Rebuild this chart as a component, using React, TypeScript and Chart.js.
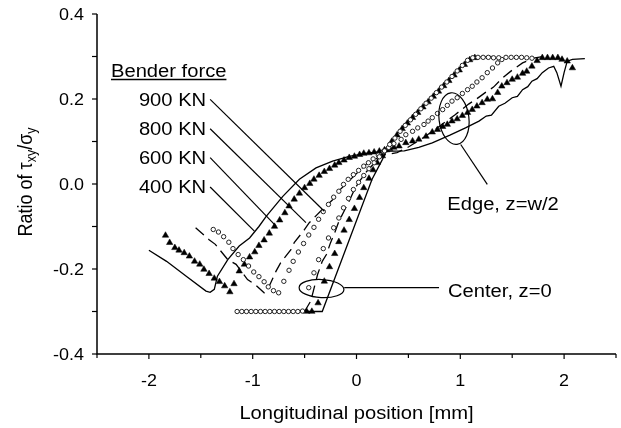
import React, { useEffect, useRef } from "react";
import { Chart, registerables } from "chart.js";
Chart.register(...registerables);

// ---- axis ticks ----
const xTickValues = [-2, -1, 0, 1, 2];
const xTickLabels = ["-2", "-1", "0", "1", "2"];
const yTickValues = [-0.4, -0.2, 0, 0.2, 0.4];
const yTickLabels = ["-0.4", "-0.2", "0.0", "0.2", "0.4"];
const xMinorTicks = [-2.5, -2, -1.5, -1, -0.5, 0, 0.5, 1, 1.5, 2, 2.5];
const yMinorTicks = [-0.4, -0.3, -0.2, -0.1, 0, 0.1, 0.2, 0.3, 0.4];

// ---- legend text ----
const forceLabels = ["900 KN", "800 KN", "600 KN", "400 KN"];

// ---- series: [x (mm), tau_xy/sigma_y] ----
// 900 KN (open circles)
const edge900: [number, number][] = [
  [-1.38, -0.107], [-1.33, -0.113], [-1.28, -0.124], [-1.23, -0.137], [-1.19, -0.152], [-1.14, -0.166],
  [-1.09, -0.178], [-1.04, -0.193], [-0.99, -0.207], [-0.94, -0.218], [-0.89, -0.23], [-0.85, -0.242],
  [-0.8, -0.251], [-0.75, -0.256], [-0.7, -0.229], [-0.65, -0.203], [-0.61, -0.182], [-0.56, -0.16],
  [-0.51, -0.14], [-0.46, -0.12], [-0.41, -0.102], [-0.365, -0.083], [-0.32, -0.065], [-0.27, -0.048],
  [-0.22, -0.031], [-0.17, -0.017], [-0.125, -0.001], [-0.08, 0.011], [-0.03, 0.022], [0.02, 0.032],
  [0.07, 0.042], [0.115, 0.05], [0.16, 0.059], [0.21, 0.068], [0.26, 0.077], [0.31, 0.086], [0.36, 0.095],
  [0.43, 0.105], [0.475, 0.116], [0.54, 0.124], [0.59, 0.132], [0.65, 0.14], [0.69, 0.148], [0.73, 0.156],
  [0.78, 0.166], [0.83, 0.175], [0.875, 0.185], [0.92, 0.195], [0.97, 0.203], [1.02, 0.213], [1.07, 0.222],
  [1.115, 0.23], [1.16, 0.24], [1.21, 0.25], [1.26, 0.262], [1.31, 0.273], [1.36, 0.285], [1.4, 0.293],
  [1.44, 0.298], [1.49, 0.298], [1.54, 0.298], [1.59, 0.298], [1.64, 0.297], [1.69, 0.296],
];
const center900: [number, number][] = [
  [-1.15, -0.3], [-1.105, -0.3], [-1.06, -0.3], [-1.015, -0.3], [-0.97, -0.3], [-0.925, -0.3], [-0.88, -0.3],
  [-0.835, -0.3], [-0.79, -0.3], [-0.745, -0.3], [-0.7, -0.3], [-0.655, -0.3], [-0.61, -0.3], [-0.565, -0.3],
  [-0.52, -0.299], [-0.46, -0.244], [-0.41, -0.209], [-0.365, -0.178], [-0.32, -0.152], [-0.27, -0.127],
  [-0.22, -0.103], [-0.17, -0.08], [-0.125, -0.056], [-0.077, -0.034], [-0.03, -0.013], [0.02, 0.004],
  [0.07, 0.02], [0.12, 0.036], [0.17, 0.05], [0.22, 0.064], [0.27, 0.078], [0.32, 0.093], [0.37, 0.108],
  [0.42, 0.124], [0.47, 0.138], [0.52, 0.151], [0.57, 0.164], [0.62, 0.177], [0.67, 0.19], [0.72, 0.202],
  [0.77, 0.215], [0.82, 0.228], [0.87, 0.24], [0.92, 0.253], [0.97, 0.266], [1.02, 0.279], [1.07, 0.291],
  [1.12, 0.297], [1.17, 0.298], [1.22, 0.298], [1.27, 0.298], [1.32, 0.297], [1.37, 0.297],
];
// 800 KN (dashed line)
const edge800: [number, number][] = [
  [-1.55, -0.103], [-1.42, -0.131], [-1.36, -0.142], [-1.24, -0.178], [-1.16, -0.189], [-1.05, -0.225],
  [-0.98, -0.236], [-0.89, -0.256], [-0.84, -0.24], [-0.775, -0.205], [-0.73, -0.185], [-0.63, -0.154],
  [-0.6, -0.138], [-0.5, -0.107], [-0.455, -0.091], [-0.33, -0.06], [-0.23, -0.037], [-0.17, -0.016],
  [-0.01, 0.022], [0.09, 0.046], [0.19, 0.06], [0.28, 0.069], [0.39, 0.074], [0.5, 0.087], [0.65, 0.11],
  [0.8, 0.136], [0.95, 0.163], [1.08, 0.188], [1.15, 0.199], [1.24, 0.215], [1.32, 0.228], [1.4, 0.248],
  [1.5, 0.268], [1.6, 0.285], [1.72, 0.297], [1.8, 0.3],
];
const center800: [number, number][] = [
  [-0.5, -0.3], [-0.44, -0.275], [-0.375, -0.213], [-0.33, -0.182], [-0.29, -0.166], [-0.25, -0.138],
  [-0.21, -0.115], [-0.17, -0.088], [-0.12, -0.064], [-0.07, -0.04], [-0.02, -0.013], [0.03, 0.007],
  [0.1, 0.03], [0.2, 0.057], [0.29, 0.082], [0.4, 0.12], [0.55, 0.16], [0.7, 0.198], [0.85, 0.236],
  [1.0, 0.274], [1.07, 0.29], [1.15, 0.298], [1.3, 0.3],
];
// 600 KN (filled triangles)
const edge600: [number, number][] = [
  [-1.84, -0.121], [-1.8, -0.138], [-1.75, -0.15], [-1.71, -0.156], [-1.66, -0.162], [-1.61, -0.17],
  [-1.56, -0.182], [-1.51, -0.189], [-1.47, -0.201], [-1.42, -0.211], [-1.37, -0.222], [-1.32, -0.23],
  [-1.27, -0.24], [-1.22, -0.254], [-1.18, -0.235], [-1.13, -0.205], [-1.08, -0.189], [-1.03, -0.172],
  [-0.98, -0.16], [-0.94, -0.145], [-0.89, -0.132], [-0.84, -0.116], [-0.79, -0.1], [-0.74, -0.085],
  [-0.69, -0.068], [-0.65, -0.052], [-0.6, -0.036], [-0.55, -0.022], [-0.5, -0.009], [-0.45, 0.001],
  [-0.41, 0.011], [-0.36, 0.02], [-0.31, 0.029], [-0.26, 0.036], [-0.21, 0.044], [-0.17, 0.05],
  [-0.12, 0.056], [-0.07, 0.062], [-0.02, 0.065], [0.03, 0.069], [0.07, 0.072], [0.12, 0.073],
  [0.17, 0.075], [0.22, 0.077], [0.27, 0.08], [0.32, 0.083], [0.36, 0.086], [0.41, 0.089], [0.475, 0.097],
  [0.54, 0.101], [0.6, 0.105], [0.67, 0.112], [0.73, 0.122], [0.78, 0.128], [0.83, 0.135], [0.875, 0.14],
  [0.92, 0.148], [0.97, 0.153], [1.02, 0.161], [1.07, 0.168], [1.115, 0.175], [1.16, 0.183], [1.21, 0.191],
  [1.26, 0.199], [1.31, 0.2], [1.36, 0.215], [1.4, 0.23], [1.45, 0.238], [1.5, 0.246], [1.55, 0.251],
  [1.6, 0.26], [1.64, 0.265], [1.69, 0.277], [1.74, 0.29], [1.79, 0.297], [1.84, 0.297], [1.89, 0.297],
  [1.94, 0.297], [1.98, 0.293], [2.03, 0.289], [2.08, 0.273],
];
const center600: [number, number][] = [
  [-0.48, -0.3], [-0.43, -0.3], [-0.37, -0.28], [-0.31, -0.229], [-0.26, -0.195], [-0.21, -0.164],
  [-0.17, -0.136], [-0.12, -0.109], [-0.07, -0.084], [-0.02, -0.058], [0.03, -0.032], [0.07, -0.009],
  [0.12, 0.013], [0.16, 0.033], [0.2, 0.05], [0.25, 0.066], [0.29, 0.08], [0.34, 0.1], [0.39, 0.115],
  [0.44, 0.13], [0.49, 0.143], [0.54, 0.156], [0.59, 0.168], [0.64, 0.181], [0.69, 0.193], [0.74, 0.206],
  [0.79, 0.218], [0.84, 0.231], [0.89, 0.243], [0.94, 0.256], [0.99, 0.268], [1.04, 0.281], [1.09, 0.292],
  [1.14, 0.297],
];
// 400 KN (solid line)
const edge400: [number, number][] = [
  [-2.0, -0.156], [-1.83, -0.182], [-1.64, -0.217], [-1.45, -0.252], [-1.41, -0.255], [-1.37, -0.248],
  [-1.34, -0.217], [-1.24, -0.178], [-1.13, -0.146], [-1.03, -0.127], [-0.94, -0.1], [-0.87, -0.076],
  [-0.71, -0.029], [-0.55, 0.011], [-0.39, 0.038], [-0.23, 0.054], [-0.07, 0.065], [0.09, 0.072],
  [0.25, 0.077], [0.46, 0.078], [0.6, 0.086], [0.73, 0.097], [0.9, 0.115], [1.05, 0.132], [1.18, 0.148],
  [1.25, 0.16], [1.3, 0.162], [1.37, 0.183], [1.43, 0.19], [1.5, 0.203], [1.55, 0.206], [1.6, 0.222],
  [1.65, 0.229], [1.69, 0.242], [1.74, 0.248], [1.79, 0.262], [1.85, 0.273], [1.9, 0.277], [1.93, 0.262],
  [1.97, 0.23], [2.0, 0.262], [2.03, 0.289], [2.08, 0.293], [2.2, 0.295],
];
const center400: [number, number][] = [
  [-1.15, -0.3], [-0.33, -0.3], [0.15, 0.011], [0.25, 0.058], [0.29, 0.08], [0.4, 0.122], [0.55, 0.16],
  [0.7, 0.199], [0.89, 0.246], [1.0, 0.274], [1.07, 0.292], [1.12, 0.298], [1.3, 0.299],
];

// ---- annotation anchors (data units) ----
const forceLeaders: [number, number, number, number][] = [
  [-1.41, 0.199, -0.31, -0.064],
  [-1.41, 0.13, -0.487, -0.091],
  [-1.41, 0.062, -0.775, -0.099],
  [-1.41, -0.007, -0.984, -0.111],
];
const centerEllipse = { x: -0.337, y: -0.246, rx: 0.216, ry: 0.0212, rot: 0.05 };
const centerLeader = [-0.118, -0.244, 0.795, -0.244];
const edgeEllipse = { x: 0.939, y: 0.154, rx: 0.144, ry: 0.061, rot: -0.12 };
const edgeLeader = [1.004, 0.093, 1.26, -0.001];

const FONT = '"Liberation Sans", Arial, Helvetica, sans-serif';
const SX = 1.12;

function txt(ctx: CanvasRenderingContext2D, s: string, x: number, y: number, size: number, align = "left") {
  ctx.save();
  ctx.font = `${size}px ${FONT}`;
  ctx.textBaseline = "alphabetic";
  ctx.textAlign = "left";
  const w = ctx.measureText(s).width * SX;
  let x0 = x;
  if (align === "center") x0 = x - w / 2;
  else if (align === "right") x0 = x - w;
  ctx.translate(x0, y);
  ctx.scale(SX, 1);
  ctx.fillText(s, 0, 0);
  ctx.restore();
  return w;
}

const toPts = (arr: [number, number][]) => arr.map(([x, y]) => ({ x, y }));

const annotPlugin = {
  id: "annot",
  afterDraw(chart: any) {
    const ctx: CanvasRenderingContext2D = chart.ctx;
    const X = (v: number) => chart.scales.x.getPixelForValue(v);
    const Y = (v: number) => chart.scales.y.getPixelForValue(v);
    const { left, right, top, bottom } = chart.chartArea;
    ctx.save();
    ctx.strokeStyle = "#000";
    ctx.fillStyle = "#000";
    // axes
    ctx.lineWidth = 1.5;
    ctx.beginPath();
    ctx.moveTo(left, top);
    ctx.lineTo(left, bottom);
    ctx.lineTo(right, bottom);
    ctx.stroke();
    ctx.lineWidth = 1.2;
    for (const v of xMinorTicks) {
      const px = X(v);
      const len = xTickValues.includes(v) ? 5 : 4;
      ctx.beginPath();
      ctx.moveTo(px, bottom);
      ctx.lineTo(px, bottom + len);
      ctx.stroke();
    }
    for (const v of yMinorTicks) {
      const py = Y(v);
      ctx.beginPath();
      ctx.moveTo(left, py);
      ctx.lineTo(left - 5, py);
      ctx.stroke();
    }
    xTickValues.forEach((v, i) => txt(ctx, xTickLabels[i], X(v), bottom + 31.5, 16, "center"));
    yTickValues.forEach((v, i) => txt(ctx, yTickLabels[i], left - 13, Y(v) + 5.7, 16, "right"));
    // axis titles
    txt(ctx, "Longitudinal position [mm]", X(0), bottom + 65, 18, "center");
    {
      const parts: [string, number, number][] = [
        ["Ratio of \u03c4", 18, 0],
        ["xy", 12.5, 4],
        ["/\u03c3", 18, 0],
        ["y", 12.5, 4],
      ];
      let total = 0;
      const widths = parts.map(([s, sz]) => {
        ctx.font = `${sz}px ${FONT}`;
        const w = ctx.measureText(s).width;
        total += w;
        return w;
      });
      ctx.save();
      ctx.translate(31.5, (top + bottom) / 2 - 2);
      ctx.scale(SX, 1);
      ctx.rotate(-Math.PI / 2);
      let cx = -total / 2;
      parts.forEach(([s, sz, dy], i) => {
        ctx.font = `${sz}px ${FONT}`;
        ctx.fillText(s, cx, dy);
        cx += widths[i];
      });
      ctx.restore();
    }
    // legend block
    const wB = txt(ctx, "Bender force", 111, 77.3, 18, "left");
    ctx.lineWidth = 1.3;
    ctx.beginPath();
    ctx.moveTo(111, 79.5);
    ctx.lineTo(111 + wB, 79.5);
    ctx.stroke();
    forceLabels.forEach((s, i) => {
      const [x0, y0] = forceLeaders[i];
      txt(ctx, s, X(x0) - 4, Y(y0) + 6.2, 18, "right");
    });
    ctx.lineWidth = 1.2;
    forceLeaders.forEach(([x0, y0, x1, y1]) => {
      ctx.beginPath();
      ctx.moveTo(X(x0), Y(y0));
      ctx.lineTo(X(x1), Y(y1));
      ctx.stroke();
    });
    // ellipses + leaders
    const ell = (e: any) => {
      const cx = X(e.x), cy = Y(e.y);
      const rx = X(e.x + e.rx) - cx;
      const ry = cy - Y(e.y + e.ry);
      ctx.beginPath();
      ctx.ellipse(cx, cy, rx, ry, e.rot, 0, Math.PI * 2);
      ctx.stroke();
    };
    ell(centerEllipse);
    ell(edgeEllipse);
    ctx.beginPath();
    ctx.moveTo(X(centerLeader[0]), Y(centerLeader[1]));
    ctx.lineTo(X(centerLeader[2]), Y(centerLeader[3]));
    ctx.stroke();
    ctx.beginPath();
    ctx.moveTo(X(edgeLeader[0]), Y(edgeLeader[1]));
    ctx.lineTo(X(edgeLeader[2]), Y(edgeLeader[3]));
    ctx.stroke();
    txt(ctx, "Center, z=0", X(centerLeader[2]) + 9, Y(centerLeader[3]) + 9.5, 18, "left");
    txt(ctx, "Edge, z=w/2", X(edgeLeader[2]) - 40, Y(edgeLeader[3]) + 25.5, 18, "left");
    ctx.restore();
  },
};

export default function App() {
  const ref = useRef<HTMLCanvasElement | null>(null);
  useEffect(() => {
    if (!ref.current) return;
    const circleDs = (data: [number, number][]) => ({
      data: toPts(data),
      showLine: false,
      pointStyle: "circle",
      pointRadius: 2.2,
      pointBorderWidth: 1,
      pointBorderColor: "#222",
      pointBackgroundColor: "#fff",
    });
    const triDs = (data: [number, number][]) => ({
      data: toPts(data),
      showLine: false,
      pointStyle: "triangle",
      pointRadius: 3.7,
      pointBorderWidth: 0.5,
      pointBorderColor: "#000",
      pointBackgroundColor: "#000",
    });
    const lineDs = (data: [number, number][], dash: number[]) => ({
      data: toPts(data),
      showLine: true,
      pointRadius: 0,
      borderColor: "#000",
      borderWidth: 1.3,
      borderDash: dash,
      tension: 0,
      fill: false,
    });
    const chart = new Chart(ref.current, {
      type: "scatter",
      data: {
        datasets: [
          { label: "900 KN center", ...circleDs(center900) },
          { label: "900 KN edge", ...circleDs(edge900) },
          { label: "600 KN center", ...triDs(center600) },
          { label: "600 KN edge", ...triDs(edge600) },
          { label: "800 KN center", ...lineDs(center800, [11, 6]) },
          { label: "800 KN edge", ...lineDs(edge800, [11, 6]) },
          { label: "400 KN center", ...lineDs(center400, []) },
          { label: "400 KN edge", ...lineDs(edge400, []) },
        ] as any,
      },
      options: {
        animation: false,
        responsive: false,
        devicePixelRatio: 1,
        events: [],
        layout: { padding: { left: 97, right: 4, top: 14, bottom: 74 } },
        scales: {
          x: { type: "linear", min: -2.5, max: 2.5, display: false },
          y: { type: "linear", min: -0.4, max: 0.4, display: false },
        },
        plugins: { legend: { display: false }, tooltip: { enabled: false } },
      },
      plugins: [annotPlugin],
    });
    return () => chart.destroy();
  }, []);
  return (
    <div style={{ position: "fixed", left: 0, top: 0, width: 621, height: 428, background: "#fff" }}>
      <canvas ref={ref} width={621} height={428} style={{ display: "block" }} />
    </div>
  );
}
